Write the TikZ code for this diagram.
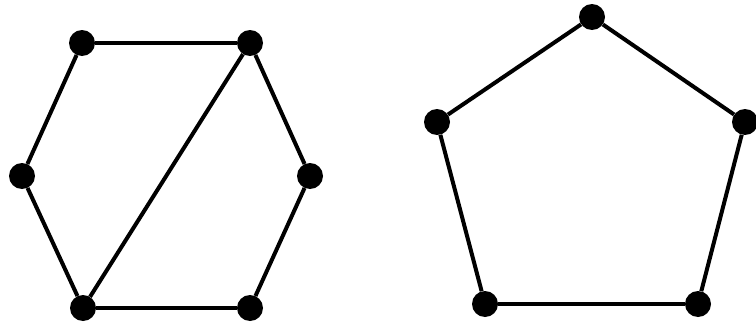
\documentclass[tikz,border=0pt]{standalone}
\usepackage{tikz}
\begin{document}
\begin{tikzpicture}[x=1pt,y=-1pt, vtx/.style={circle, fill=black, inner sep=0pt, minimum size=26pt},
  ed/.style={line width=4pt, black}]
  \useasboundingbox (0,0) rectangle (756,324);
  % hexagon with one diagonal
  \node[vtx] (h1) at (82,43) {};  \node[vtx] (h2) at (250,43) {};
  \node[vtx] (h3) at (310,176) {}; \node[vtx] (h4) at (250,308) {};
  \node[vtx] (h5) at (83,308) {};  \node[vtx] (h6) at (22,176) {};
  \foreach \a/\b in {h1/h2,h2/h3,h3/h4,h4/h5,h5/h6,h6/h1,h2/h5}{\draw[ed] (\a) -- (\b);}
  % pentagon
  \node[vtx] (p1) at (592,17) {};  \node[vtx] (p2) at (745,122) {};
  \node[vtx] (p3) at (698,304) {}; \node[vtx] (p4) at (485,304) {};
  \node[vtx] (p5) at (437,122) {};
  \foreach \a/\b in {p1/p2,p2/p3,p3/p4,p4/p5,p5/p1}{\draw[ed] (\a) -- (\b);}
\end{tikzpicture}
\end{document}
